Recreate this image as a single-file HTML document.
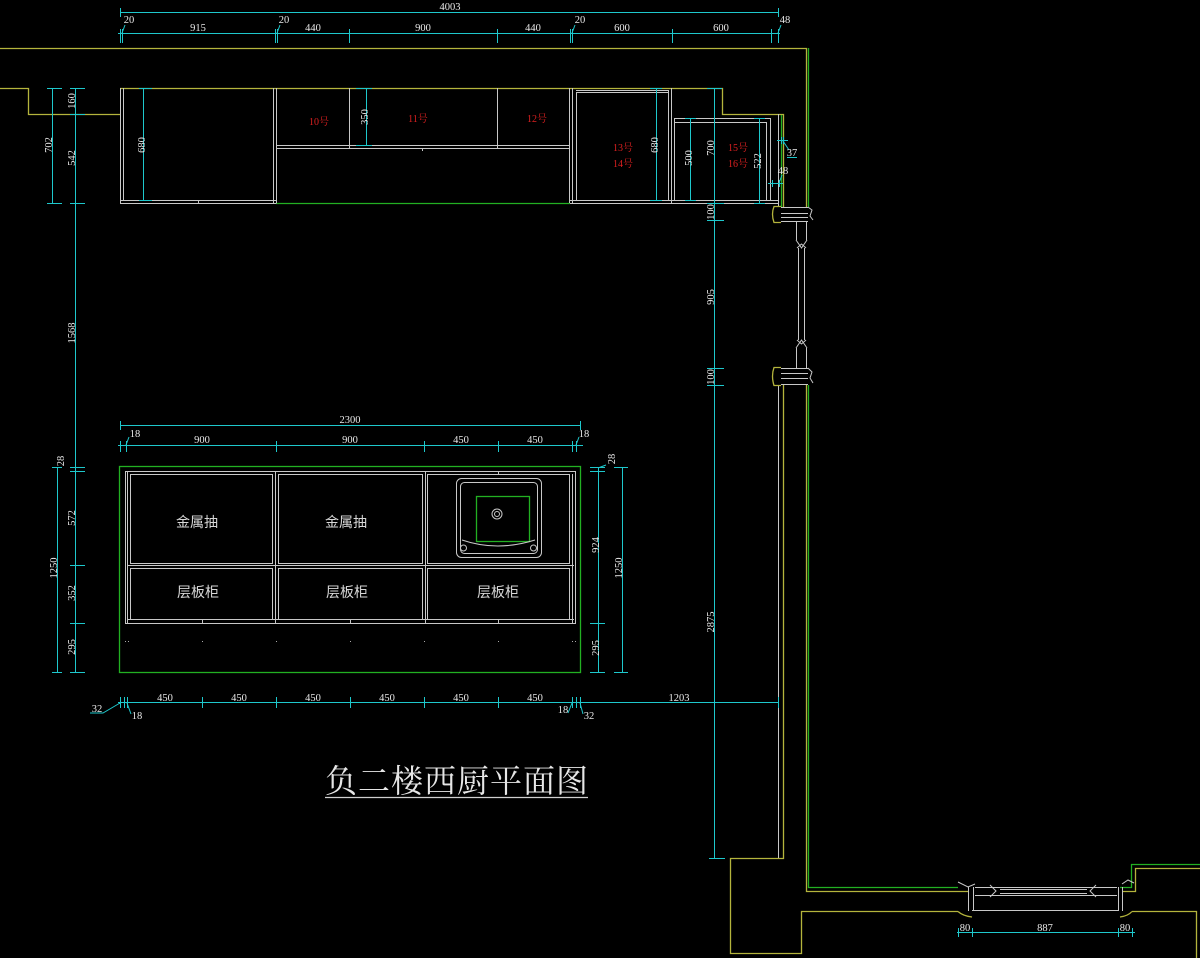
<!DOCTYPE html>
<html><head><meta charset="utf-8"><style>
html,body{margin:0;padding:0;background:#000;}
svg{display:block}
.c{stroke:#1ec8cc;fill:none;stroke-width:1}
.w{stroke:#c8c8c8;fill:none;stroke-width:1}
.y{stroke:#b4b43c;fill:none;stroke-width:1.3}
.g{stroke:#22b022;fill:none;stroke-width:1.3}
.t{font-family:"Liberation Serif",serif;font-size:10.5px;fill:#e8e8e8;text-anchor:middle}
.r{font-family:"Liberation Serif","Noto Serif CJK SC",serif;font-size:10px;fill:#dc2020;text-anchor:middle}
.z{font-family:"Liberation Sans","Noto Sans CJK SC",sans-serif;font-size:14px;fill:#d8d8d8;text-anchor:middle}
.h{font-family:"Liberation Serif","Noto Serif CJK SC",serif;font-size:32px;letter-spacing:1px;fill:#e6e6e6;text-anchor:middle}
</style></head><body>
<svg width="1200" height="958" viewBox="0 0 1200 958" xmlns="http://www.w3.org/2000/svg">
<rect width="1200" height="958" fill="#000"/>

<!-- ===== TOP DIMENSIONS ===== -->
<path class="c" d="M120 12.5H778 M120.5 8V17 M778.5 8V17"/>
<text class="t" x="450" y="10">4003</text>
<path class="c" d="M118 33.5H780
M120.5 29V43 M122.5 29V43 M275.5 29V43 M277.5 29V43 M349.5 29V43 M497.5 29V43
M570.5 29V43 M572.5 29V43 M672.5 29V43 M771.5 29V43 M778.5 29V43
M122 33L125 25 M277 33L280 25 M572 33L575 25 M778 33L781 25"/>
<text class="t" x="129" y="23">20</text>
<text class="t" x="198" y="31">915</text>
<text class="t" x="284" y="23">20</text>
<text class="t" x="313" y="31">440</text>
<text class="t" x="423" y="31">900</text>
<text class="t" x="533" y="31">440</text>
<text class="t" x="580" y="23">20</text>
<text class="t" x="622" y="31">600</text>
<text class="t" x="721" y="31">600</text>
<text class="t" x="785" y="23">48</text>

<!-- ===== WALLS ===== -->
<path class="y" d="M0 48.5H806.5V207 M806.5 385V891.5H968"/>
<path class="g" d="M808.5 48V207 M808.5 385V887.5H958"/>
<path class="y" d="M0 88.5H28.5V114.5H120 M120 88.5H722.5V114.5H783.5V207 M783.5 385V858.5H730.5V953.5H801.5V911.5H958 M1132 911.5H1196.5V958"/>
<path class="g" d="M781.5 115V207 M276 203.5H570"/>
<path class="y" d="M1122 891.5H1135.5V868.5H1200"/>
<path class="g" d="M1120 887.5H1131.5V864.5H1200"/>
<path class="w" d="M778.5 114V207 M778.5 385V858" stroke="#a8a8a8"/>

<!-- ===== UPPER CABINETS ===== -->
<path class="w" d="M120.5 88V203.5 M123.5 88V200.5 M273.5 88V203.5 M276.5 88V203.5
M120 200.5H276 M120 203.5H276 M198.5 200V203
M276 145.5H569 M276 148.5H569 M349.5 88V148 M497.5 88V148 M422.5 148V151
M569.5 88V203 M572.5 88V203 M576.5 92V200
M576 90.5H668 M576 92.5H668
M668.5 90V200 M671.5 88V203 M674.5 118V200
M570 200.5H778 M570 203.5H778
M674 118.5H770 M674 122.5H766
M766.5 122V200 M770.5 118V200 M778.5 114V207"/>
<!-- red labels -->
<text class="r" x="319" y="125">10号</text>
<text class="r" x="418" y="122">11号</text>
<text class="r" x="537" y="122">12号</text>
<text class="r" x="623" y="151">13号</text>
<text class="r" x="623" y="167">14号</text>
<text class="r" x="738" y="151">15号</text>
<text class="r" x="738" y="167">16号</text>

<!-- upper cabinet dims -->
<path class="c" d="M143.5 88V200 M139 88.5H152 M139 200.5H152
M366.5 88V145 M356 88.5H372 M356 145.5H372
M656.5 88V200 M650 88.5H662 M650 200.5H662
M690.5 118V200 M685 118.5H696 M685 200.5H696
M759.5 118V203 M754 118.5H765 M754 203.5H765
M777 140.5H788 M781.5 137V144 M783.5 137V144 M783 141L789 150 M787 157.5H797
M768 183.5H783 M772.5 180V187 M779.5 180V187 M779 183L782 175"/>
<text class="t" transform="rotate(-90 145 145)" x="145" y="145">680</text>
<text class="t" transform="rotate(-90 368 117)" x="368" y="117">350</text>
<text class="t" transform="rotate(-90 658 145)" x="658" y="145">680</text>
<text class="t" transform="rotate(-90 692 158)" x="692" y="158">500</text>
<text class="t" transform="rotate(-90 761 161)" x="761" y="161">522</text>
<text class="t" x="792" y="156">37</text>
<text class="t" x="783" y="174">48</text>

<!-- long vertical dim at x=714 -->
<path class="c" d="M714.5 88V858 M707 88.5H722 M707 203.5H724 M707 220.5H724 M707 368.5H724 M707 385.5H724 M709 858.5H725"/>
<text class="t" transform="rotate(-90 714 148)" x="714" y="148">700</text>
<text class="t" transform="rotate(-90 714 212)" x="714" y="212">100</text>
<text class="t" transform="rotate(-90 714 297)" x="714" y="297">905</text>
<text class="t" transform="rotate(-90 714 377)" x="714" y="377">100</text>
<text class="t" transform="rotate(-90 714 622)" x="714" y="622">2875</text>

<!-- left vertical dims -->
<path class="c" d="M52.5 88V203 M47 88.5H62 M47 203.5H62
M75.5 88V672 M70 88.5H85 M70 114.5H85 M70 203.5H85 M70 467.5H85 M70 471.5H85 M70 565.5H85 M70 623.5H85 M70 672.5H85
M57.5 467V672 M52 467.5H62 M52 672.5H62"/>
<text class="t" transform="rotate(-90 52 145)" x="52" y="145">702</text>
<text class="t" transform="rotate(-90 75 101)" x="75" y="101">160</text>
<text class="t" transform="rotate(-90 75 158)" x="75" y="158">542</text>
<text class="t" transform="rotate(-90 75 333)" x="75" y="333">1568</text>
<text class="t" transform="rotate(-90 64 461)" x="64" y="461">28</text>
<text class="t" transform="rotate(-90 75 518)" x="75" y="518">572</text>
<text class="t" transform="rotate(-90 75 593)" x="75" y="593">352</text>
<text class="t" transform="rotate(-90 75 647)" x="75" y="647">295</text>
<text class="t" transform="rotate(-90 57 568)" x="57" y="568">1250</text>

<!-- ===== ISLAND ===== -->
<path class="c" d="M120 425.5H580 M120.5 421V430 M580.5 421V430
M118 445.5H583 M120.5 441V452 M126.5 441V452 M276.5 441V452 M424.5 441V452 M498.5 441V452 M572.5 441V452 M576.5 441V452
M126 445L129 437 M576 445L579 437"/>
<text class="t" x="350" y="423">2300</text>
<text class="t" x="135" y="437">18</text>
<text class="t" x="202" y="443">900</text>
<text class="t" x="350" y="443">900</text>
<text class="t" x="461" y="443">450</text>
<text class="t" x="535" y="443">450</text>
<text class="t" x="584" y="437">18</text>

<rect x="119.5" y="466.5" width="461" height="206" class="g"/>
<path class="w" d="M125.5 471V623.5 M127.5 471V623 M575.5 471V623.5 M572.5 474V623
M125 471.5H576 M125 623.5H576 M127 619.5H574
M275.5 471V623 M425.5 471V623
M127 565.5H574
M202.5 619V623 M350.5 619V623 M498.5 619V623 M498.5 471V474"/>
<rect class="w" x="130.5" y="474.5" width="142" height="89"/>
<rect class="w" x="278.5" y="474.5" width="144" height="89"/>
<rect class="w" x="427.5" y="474.5" width="142" height="89"/>
<rect class="w" x="130.5" y="568.5" width="142" height="51"/>
<rect class="w" x="278.5" y="568.5" width="144" height="51"/>
<rect class="w" x="427.5" y="568.5" width="142" height="51"/>
<!-- sink -->
<rect class="w" x="456.5" y="478.5" width="85" height="79" rx="5" stroke="#9a9a9a"/>
<rect class="w" x="460.5" y="482.5" width="77" height="71" rx="4" stroke="#9a9a9a"/>
<rect class="g" x="476.5" y="496.5" width="53" height="45" stroke-width="1"/>
<circle class="w" cx="497" cy="514" r="5" stroke="#9a9a9a"/>
<circle class="w" cx="497" cy="514" r="2.5" stroke="#9a9a9a"/>
<path class="w" d="M462 540Q497 552 535 540" stroke="#9a9a9a"/>
<circle class="w" cx="463.5" cy="548" r="3" stroke="#9a9a9a"/>
<circle class="w" cx="533.5" cy="548" r="3" stroke="#9a9a9a"/>
<!-- dots -->
<g fill="#aaa"><rect x="125" y="641" width="1" height="1"/><rect x="128" y="641" width="1" height="1"/><rect x="202" y="641" width="1" height="1"/><rect x="276" y="641" width="1" height="1"/><rect x="350" y="641" width="1" height="1"/><rect x="424" y="641" width="1" height="1"/><rect x="498" y="641" width="1" height="1"/><rect x="572" y="641" width="1" height="1"/><rect x="575" y="641" width="1" height="1"/></g>
<text class="z" x="197" y="527">金属抽</text>
<text class="z" x="346" y="527">金属抽</text>
<text class="z" x="198" y="597">层板柜</text>
<text class="z" x="347" y="597">层板柜</text>
<text class="z" x="498" y="597">层板柜</text>

<!-- island right dims -->
<path class="c" d="M598.5 467V672 M590 467.5H605 M590 471.5H605 M590 623.5H605 M590 672.5H605 M598 468L606 465
M622.5 467V672 M614 467.5H628 M614 672.5H628"/>
<text class="t" transform="rotate(-90 615 459)" x="615" y="459">28</text>
<text class="t" transform="rotate(-90 599 545)" x="599" y="545">924</text>
<text class="t" transform="rotate(-90 599 648)" x="599" y="648">295</text>
<text class="t" transform="rotate(-90 622 568)" x="622" y="568">1250</text>

<!-- island bottom dims -->
<path class="c" d="M118 702.5H778
M120.5 697V708 M124.5 697V708 M127.5 697V708 M202.5 697V708 M276.5 697V708 M350.5 697V708 M424.5 697V708 M498.5 697V708 M572.5 697V708 M576.5 697V708 M580.5 697V708 M778.5 697V708
M120 703L103 713H90 M127 703L131 714 M572 703L568 713 M580 703L583 714"/>
<text class="t" x="165" y="701">450</text>
<text class="t" x="239" y="701">450</text>
<text class="t" x="313" y="701">450</text>
<text class="t" x="387" y="701">450</text>
<text class="t" x="461" y="701">450</text>
<text class="t" x="535" y="701">450</text>
<text class="t" x="679" y="701">1203</text>
<text class="t" x="97" y="712">32</text>
<text class="t" x="137" y="719">18</text>
<text class="t" x="563" y="713">18</text>
<text class="t" x="589" y="719">32</text>

<!-- ===== RIGHT WINDOW (vertical) ===== -->
<path class="y" d="M781 206.5H774Q771 214 774 222.5H781 M781 367.5H774Q771 376 774 385.5H781" stroke-width="1.2"/>
<path class="w" d="M781 207.5H808 M781 213.5H808 M781 217.5H808 M781 221.5H808 M808 207L812 210L810 216L813 220
M781 368.5H808 M781 373.5H808 M781 378.5H808 M781 384.5H808 M808 368L812 372L810 378L813 383
M796.5 222V240 M806.5 222V240 M796 240L801.5 248L807 240 M797 248L801.5 244L806 248
M798.5 248V340 M804.5 248V340 M796 348L801.5 340L807 348 M797 340L801.5 344L806 340
M796.5 348V368 M806.5 348V368"/>

<!-- ===== BOTTOM WINDOW ===== -->
<path class="y" d="M958 911.5Q963 916 972 917 M1120 917Q1128 916 1132 911.5" stroke-width="1.2"/>
<path class="w" d="M958 882L968 887L975 884 M968.5 887V911 M973.5 887V911
M975 887.5H1117 M975 895.5H1117 M1000 889.5H1087 M1000 893.5H1087
M990 885L996 891L990 897 M1096 885L1090 891L1096 897
M972 910.5H1118
M1118.5 887V911 M1122.5 887V911 M1122 884L1128 880L1134 883"/>
<path class="c" d="M957 932.5H1135 M958.5 928V937 M972.5 928V937 M1118.5 928V937 M1132.5 928V937"/>
<text class="t" x="965" y="931">80</text>
<text class="t" x="1045" y="931">887</text>
<text class="t" x="1125" y="931">80</text>

<!-- ===== TITLE ===== -->
<text class="h" x="457" y="792">负二楼西厨平面图</text>
<path d="M325 797.5H588" stroke="#d0d0d0" stroke-width="1.2"/>
</svg>
</body></html>
